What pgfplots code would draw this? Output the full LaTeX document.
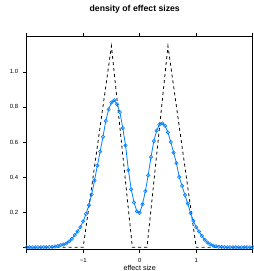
\documentclass[border=0pt]{standalone}
\usepackage{fontspec}
\setmainfont{Liberation Sans}
\usepackage{pgfplots}
\pgfplotsset{compat=1.18}
\definecolor{lblue}{HTML}{0080FF}
\begin{document}
\begin{tikzpicture}
\begin{axis}[
  at={(26.7bp,21.5bp)}, anchor=south west,
  scale only axis, width=226bp, height=213.5bp,
  xmin=-2, xmax=2, ymin=-0.0125, ymax=1.204,
  axis line style={line width=0.8pt},
  tick align=outside,
  major tick length=3.3bp,
  tick style={line width=0.6pt, black},
  xtick={-2,-1,0,1,2},
  xticklabels={,−1,0,1,},
  xtick pos=both, xticklabel pos=lower,
  ytick={0,0.2,0.4,0.6,0.8,1.0},
  yticklabels={,0.2,0.4,0.6,0.8,1.0},
  ytick pos=left,
  /pgf/number format/assume math mode=true,
  ticklabel style={font=\fontsize{6}{7}\selectfont, inner sep=0pt},
  yticklabel style={xshift=-5bp},
  xticklabel style={yshift=-5bp},
  title={density of effect sizes},
  title style={font=\fontsize{8.7}{10}\selectfont\bfseries, at={(axis description cs:0.478,1)}, anchor=center, yshift=21bp},
  xlabel={effect size},
  xlabel style={font=\fontsize{7.2}{8.5}\selectfont, at={(axis description cs:0.5,0)}, anchor=north, yshift=-15.5bp, inner sep=0pt},
  clip=false,
]
\addplot[black, dashed, line width=0.8pt, dash pattern=on 3bp off 3bp] coordinates {
(-2,0) (-1,0) (-0.5,1.147) (-0.13,0) (0.13,0) (0.5,1.147) (1,0) (2,0)
};
\addplot[lblue, line width=0.8pt, mark=o, mark size=1.7bp, mark options={line width=0.6pt}] coordinates {
(-2.00,0) (-1.95,0) (-1.90,0) (-1.85,0.0001) (-1.80,0.0002) (-1.75,0.0003)
(-1.70,0.0005) (-1.65,0.001) (-1.60,0.002) (-1.55,0.003) (-1.50,0.005)
(-1.45,0.008) (-1.40,0.012) (-1.35,0.016) (-1.30,0.021) (-1.25,0.034)
(-1.20,0.048) (-1.15,0.070) (-1.10,0.090) (-1.05,0.115) (-1.00,0.148)
(-0.95,0.19) (-0.90,0.24) (-0.85,0.30) (-0.80,0.38) (-0.75,0.465)
(-0.70,0.545) (-0.65,0.63) (-0.60,0.72) (-0.55,0.786) (-0.50,0.825)
(-0.45,0.838) (-0.40,0.815) (-0.35,0.77) (-0.30,0.68) (-0.25,0.58)
(-0.20,0.44) (-0.15,0.33) (-0.10,0.255) (-0.05,0.205) (0.00,0.196)
(0.05,0.245) (0.10,0.32) (0.15,0.41) (0.20,0.515) (0.25,0.605)
(0.30,0.665) (0.35,0.70) (0.40,0.706) (0.45,0.692) (0.50,0.655)
(0.55,0.60) (0.60,0.54) (0.65,0.48) (0.70,0.40) (0.75,0.35)
(0.80,0.298) (0.85,0.25) (0.90,0.195) (0.95,0.15) (1.00,0.115)
(1.05,0.09) (1.10,0.065) (1.15,0.043) (1.20,0.028) (1.25,0.017)
(1.30,0.010) (1.35,0.006) (1.40,0.003) (1.45,0.002) (1.50,0.001)
(1.55,0.0005) (1.60,0.0002) (1.65,0.0001) (1.70,0) (1.75,0) (1.80,0)
(1.85,0) (1.90,0) (1.95,0) (2.00,0)
};
\end{axis}
\pgfresetboundingbox
\path[use as bounding box] (0,0) rectangle (254bp,271bp);
\end{tikzpicture}
\end{document}
